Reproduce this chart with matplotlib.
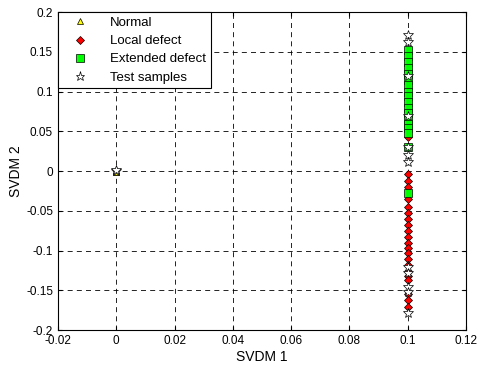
import numpy as np
import matplotlib
matplotlib.use("Agg")
import matplotlib.pyplot as plt

plt.rcParams['font.family'] = ['Liberation Sans', 'DejaVu Sans']

# data
normal_x = [0, 0, 0, 0, 0]
normal_y = [0, 0.001, -0.001, 0.0005, -0.0005]

local_y = [0.043, -0.003, -0.012, -0.02, -0.035, -0.045, -0.052, -0.06, -0.068,
           -0.075, -0.083, -0.09, -0.097, -0.103, -0.11, -0.118, -0.125,
           -0.132, -0.137, -0.155, -0.162, -0.171]
local_x = [0.1] * len(local_y)

extended_y = [0.152, 0.145, 0.138, 0.13, 0.122, 0.115, 0.108, 0.1, 0.094,
              0.087, 0.08, 0.073, 0.066, 0.06, 0.054, 0.048, 0.03, -0.028]
extended_x = [0.1] * len(extended_y)

test_x = [0, 0, 0.1, 0.1, 0.1, 0.1, 0.1, 0.1, 0.1, 0.1, 0.1, 0.1, 0.1, 0.1]
test_y = [0, 0.001, 0.171, 0.163, 0.12, 0.07, 0.03, 0.02, 0.012, -0.12,
          -0.128, -0.146, -0.152, -0.179]

fig = plt.figure(figsize=(4.79, 3.71), dpi=100)
ax = fig.add_axes([0.121, 0.110, 0.852, 0.857])

ax.plot(normal_x, normal_y, '^', color='yellow', mec='k', mew=0.5, ms=5, label='Normal', zorder=3)
ax.plot(local_x, local_y, 'D', color='red', mec='k', mew=0.5, ms=4.5, label='Local defect', zorder=3)
ax.plot(extended_x, extended_y, 's', color='#00ff00', mec='k', mew=0.5, ms=5.5, label='Extended defect', zorder=3)
ax.plot(test_x, test_y, '*', color='white', mec='k', mew=0.5, ms=7, label='Test samples', zorder=4)

ax.set_xlim(-0.02, 0.12)
ax.set_ylim(-0.2, 0.2)
ax.set_xticks(np.arange(-0.02, 0.121, 0.02))
ax.set_yticks(np.arange(-0.2, 0.201, 0.05))
ax.set_xticklabels(['-0.02', '0', '0.02', '0.04', '0.06', '0.08', '0.1', '0.12'])
ax.set_yticklabels(['-0.2', '-0.15', '-0.1', '-0.05', '0', '0.05', '0.1', '0.15', '0.2'])
ax.tick_params(direction='in', labelsize=8.5, top=True, right=True, length=3)
ax.grid(True, color='k', linestyle=(0, (6, 5)), linewidth=0.6)
ax.set_xlabel('SVDM 1', fontsize=10, labelpad=2)
ax.set_ylabel('SVDM 2', fontsize=10, labelpad=2)
for s in ax.spines.values():
    s.set_linewidth(0.8)

leg = ax.legend(loc='upper left', fontsize=9.5, fancybox=False, edgecolor='k',
                framealpha=1, borderaxespad=0, handletextpad=1.0, labelspacing=0.45,
                borderpad=0.35, handlelength=2.6, markerscale=0.95)
leg.get_frame().set_linewidth(0.8)

fig.savefig('out.png', dpi=100)
